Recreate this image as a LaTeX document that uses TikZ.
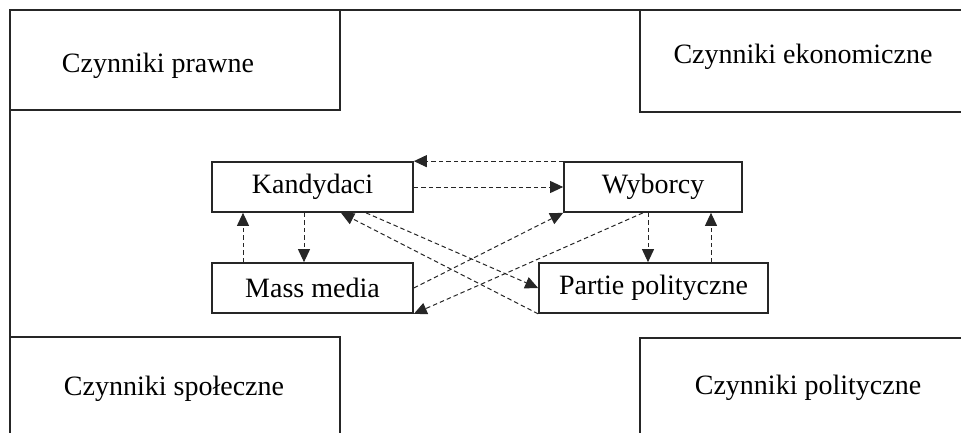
\documentclass[tikz,border=0pt]{standalone}
\usepackage{fontspec}
\setmainfont{Liberation Serif}
\usetikzlibrary{arrows.meta}
\begin{document}
\begin{tikzpicture}[x=1pt,y=-1pt,
  frame/.style={line width=1.6pt, draw=black!85},
  midbox/.style={draw=black!85, line width=1.7pt, inner sep=0pt, minimum height=50pt,
     font=\fontsize{28}{34}\selectfont},
  lbl/.style={inner sep=0pt, font=\fontsize{28}{34}\selectfont},
  arr/.style={draw=black!85, line width=1pt, dash pattern=on 4.5pt off 3pt,
     -{Triangle[length=13pt,width=12pt]}}]
\useasboundingbox (0,0) rectangle (961,433);
% outer frame and corner boxes
\draw[frame] (10,433) -- (10,10) -- (961,10);
\draw[frame] (10,10) rectangle (340,110);
\draw[frame] (640,10) -- (640,112) -- (961,112);
\draw[frame] (10,337) -- (340,337) -- (340,433);
\draw[frame] (640,433) -- (640,338) -- (961,338);
\node[lbl] (prawne) at (158,66) {Czynniki prawne};
\node[lbl] (ekon) at (803,57) {Czynniki ekonomiczne};
\node[lbl] (spol) at (174,389) {Czynniki społeczne};
\node[lbl] (polit) at (808,388) {Czynniki polityczne};
% central boxes
\node[midbox, minimum width=201pt] (K) at (312.5,187) {Kandydaci};
\node[midbox, minimum width=201pt] (M) at (312.5,288) {Mass media};
\node[midbox, minimum width=178pt] (W) at (653,187) {Wyborcy};
\node[midbox, minimum width=229pt] (P) at (653.5,288) {Partie polityczne};
% connectors
\draw[arr] (W.north west) -- (K.north east);
\draw[arr] (K.east) -- (W.west);
\draw[arr] (M.north -| 243,0) -- (K.south -| 243,0);
\draw[arr] (K.south -| 304,0) -- (M.north -| 304,0);
\draw[arr] (W.south -| 648,0) -- (P.north -| 648,0);
\draw[arr] (P.north -| 711,0) -- (W.south -| 711,0);
\draw[arr] (M.east) -- (W.south west);
\draw[arr] (W.south -| 643,0) -- (M.south east);
\draw[arr] (K.south -| 366,0) -- (P.west);
\draw[arr] (P.south west) -- (K.south -| 341,0);
\end{tikzpicture}
\end{document}
